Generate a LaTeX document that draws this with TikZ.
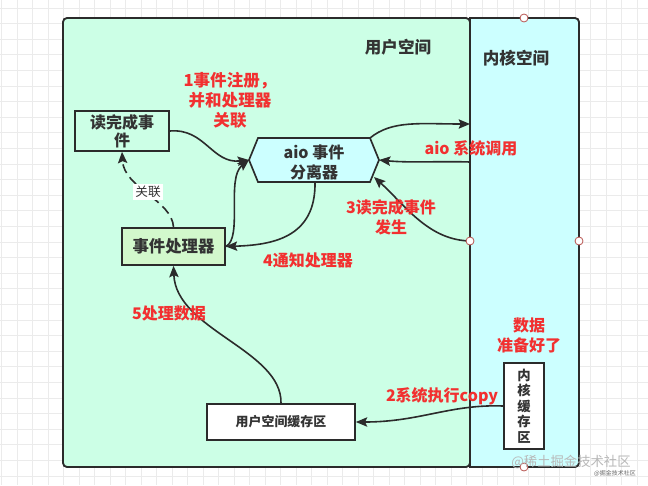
\documentclass[tikz,border=0pt]{standalone}
\usepackage{fontspec}
\setmainfont{Noto Sans CJK SC}
\usetikzlibrary{arrows.meta}
\definecolor{usergreen}{HTML}{CCFFE6}
\definecolor{kerncyan}{HTML}{CCFFFF}
\definecolor{handgreen}{HTML}{D2F8CC}
\definecolor{ink}{HTML}{2B2B2B}
\definecolor{txt}{HTML}{333333}
\definecolor{redtxt}{HTML}{F23030}
\definecolor{gridc}{HTML}{EBEBEB}
\definecolor{handlec}{HTML}{B85450}
\tikzset{
  box/.style={draw=ink, line width=1.25pt, inner sep=0pt, align=center, text=txt},
  conn/.style={draw=ink, line width=1.2pt, -{Stealth[length=8.5pt,width=7pt,inset=1.5pt]}},
  redlbl/.style={text=redtxt, font=\fontsize{12}{15}\selectfont\bfseries, align=center, inner sep=0pt},
  darklbl/.style={text=txt, font=\fontsize{12.4}{15}\selectfont\bfseries, inner sep=0pt},
  handle/.style={circle, draw=handlec, fill=white, line width=0.6pt, inner sep=0pt, minimum size=6pt}
}
\begin{document}
\begin{tikzpicture}[x=0.75pt, y=-0.75pt]
\useasboundingbox (0,0) rectangle (648,485);
\fill[white] (0,0) rectangle (648,485);
% grid
\foreach \gx in {1.5,17,...,648} \draw[gridc, line width=0.6pt] (\gx,0) -- (\gx,485);
\foreach \gy in {8,23.6,...,485} \draw[gridc, line width=0.6pt] (0,\gy) -- (648,\gy);
% regions
\draw[fill=usergreen, draw=ink, line width=1.4pt, rounded corners=3pt] (63,18) rectangle (470,467);
\draw[fill=kerncyan, draw=ink, line width=1.4pt] (470,18) [rounded corners=3pt] -- (579,18) -- (579,467) [sharp corners] -- (470,467) -- cycle;
\node[darklbl] (userlbl) at (398,47) {用户空间};
\node[darklbl] (kernlbl) at (516,58) {内核空间};
% named points on kernel boundary
\coordinate (kin) at (470,124);
\coordinate (kout) at (470,162);
\coordinate (kevt) at (470,241);
% boxes
\node[box, minimum width=70.5pt, minimum height=30pt, font=\fontsize{12}{13.5}\selectfont\bfseries] (read) at (122,131) {读完成事\\件};
\node[box, fill=handgreen, minimum width=77.25pt, minimum height=27.75pt, font=\fontsize{12.3}{14}\selectfont\bfseries] (handler) at (173.5,246.5) {事件处理器};
\node[box, fill=white, minimum width=111pt, minimum height=27pt, font=\fontsize{9.7}{12}\selectfont\bfseries] (ubuf) at (281,422) {用户空间缓存区};
\node[box, fill=white, minimum width=30pt, minimum height=64.5pt, font=\fontsize{10}{11.6}\selectfont\bfseries] (kbuf) at (524,406) {内\\核\\缓\\存\\区};
% hexagon
\draw[fill=kerncyan, draw=ink, line width=1.25pt] (249,160) coordinate (hexL) -- (258,138) -- (370,138) coordinate (hexTR) -- (379,160) coordinate (hexR) -- (370,182) coordinate (hexBR) -- (258,182) -- cycle;
\coordinate (hexB) at (315,182);
\coordinate (hexBRin) at (374,177);
\node[text=txt, font=\fontsize{12}{15}\selectfont\bfseries, align=center, inner sep=0pt] (hex) at (314,162) {aio 事件\\分离器};
% connectors
\draw[conn] (read.east) .. controls (205,128) and (212,164) .. (hexL);
\draw[conn] (handler.east) .. controls (243,238) and (226,178) .. (hexL);
\draw[conn] (hexB) .. controls (316,238) and (272,245) .. (handler.east);
\draw[conn] (hexTR) .. controls (392,120) and (420,124) .. (kin);
\draw[conn] (kout) .. controls (440,161) and (410,163) .. (hexR);
\draw[conn] (kevt) .. controls (428,240) and (405,205) .. (hexBRin);
\draw[conn, dashed, dash pattern=on 7pt off 4pt] (handler.north) .. controls (172,200) and (124,188) .. (read.south);
\node[fill=white, text=txt, font=\fontsize{9.5}{11}\selectfont, inner sep=1.5pt] (rel) at (148,192) {关联};
\draw[conn] (ubuf.north) .. controls (282,350) and (176,330) .. (handler.south);
\draw[conn] (kbuf.west) .. controls (450,404) and (420,422) .. (ubuf.east);
% red labels
\node[redlbl, font=\fontsize{12.4}{15}\selectfont\bfseries] (l1) at (230,100) {1事件注册，\\并和处理器\\关联};
\node[redlbl] (l2) at (442,396) {2系统执行copy};
\node[redlbl] (l3) at (391,217) {3读完成事件\\发生};
\node[redlbl] (l4) at (308,260) {4通知处理器};
\node[redlbl] (l5) at (169,313) {5处理数据};
\node[redlbl] (laio) at (471,148) {aio 系统调用};
\node[redlbl] (lready) at (529,335) {数据\\准备好了};
% handles
\node[handle] (h1) at (524,18) {};
\node[handle] (h2) at (470,241) {};
\node[handle] (h3) at (579,241) {};
\node[handle] (h4) at (524,467) {};
% watermark
\node[text=black!28, font=\fontsize{10}{12}\selectfont, inner sep=0pt] (wm) at (571,462) {@稀土掘金技术社区};
\node[text=black!60, font=\fontsize{4.5}{5}\selectfont, inner sep=0pt] (wm2) at (615,473) {@掘金技术社区};
\end{tikzpicture}
\end{document}
